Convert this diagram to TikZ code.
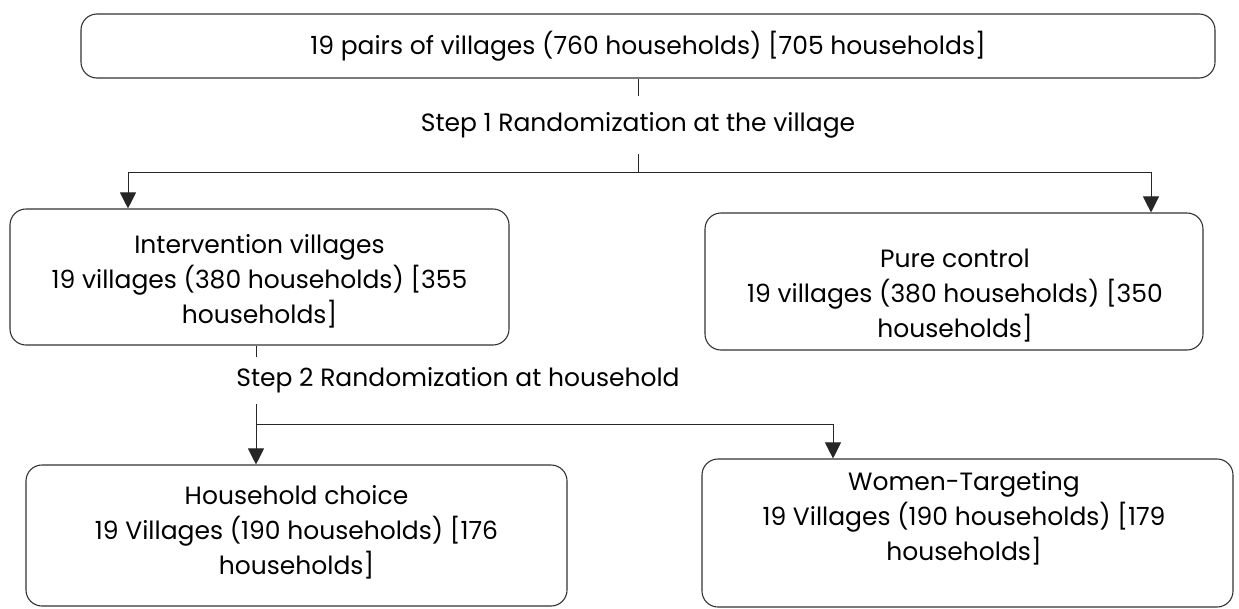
\documentclass[tikz,border=0pt]{standalone}
\usepackage{fontspec}
\setmainfont{Poppins}
\usetikzlibrary{arrows.meta}

\begin{document}
\begin{tikzpicture}[x=1pt,y=-1pt,font=\fontsize{25}{35}\selectfont,
	box/.style={draw=black!80,line width=1.1pt,rounded corners=16pt,inner sep=0pt},
	boxtext/.style={align=center,inner sep=0pt},
	stepnote/.style={inner sep=0pt},
	link/.style={line width=0.9pt,draw=black!85},
	arrow/.style={link,-{Triangle[width=16pt,length=16pt]}}]
	\useasboundingbox (0,0) rectangle (1239,608);
	\node[box,boxtext,minimum width=1134pt,minimum height=64pt] (top) at (648,46) {19 pairs of villages (760 households) [705 households]};
	\node[stepnote,minimum height=58pt] (step1) at (638,125) {Step 1 Randomization at the village};
	\node[box,minimum width=499pt,minimum height=136pt] (inter) at (259.5,277) {};
	\node[boxtext] (interText) at (259.5,281) {Intervention villages\\19 villages (380 households) [355\\households]};
	\node[box,minimum width=498pt,minimum height=137pt] (pure) at (954,281.5) {};
	\node[boxtext] (pureText) at (955,296) {Pure control\\19 villages (380 households) [350\\households]};
	\node[stepnote,minimum height=47pt] (step2) at (458,380.5) {Step 2 Randomization at household};
	\node[box,minimum width=541pt,minimum height=141pt] (hh) at (296.5,535.5) {};
	\node[boxtext] (hhText) at (296.5,532) {Household choice\\19 Villages (190 households) [176\\households]};
	\node[box,minimum width=531pt,minimum height=148pt] (wt) at (967.5,533) {};
	\node[boxtext] (wtText) at (964,518) {Women-Targeting\\19 Villages (190 households) [179\\households]};
	\coordinate (split1) at (638,172);
	\coordinate (toInter) at (128,172);
	\coordinate (toPure) at (1151,172);
	\coordinate (split2) at (256,424);
	\coordinate (toWomen) at (833,424);
	\draw[link] (split1 |- top.south) -- (step1.north);
	\draw[link] (step1.south) -- (split1);
	\draw[link] (toInter) -- (toPure);
	\draw[arrow] (toInter) -- (toInter |- inter.north);
	\draw[arrow] (toPure) -- (toPure |- pure.north);
	\draw[link] (split2 |- inter.south) -- (split2 |- step2.north);
	\draw[link] (split2 |- step2.south) -- (split2) -- (toWomen);
	\draw[arrow] (split2) -- (split2 |- hh.north);
	\draw[arrow] (toWomen) -- (toWomen |- wt.north);
\end{tikzpicture}
\end{document}
